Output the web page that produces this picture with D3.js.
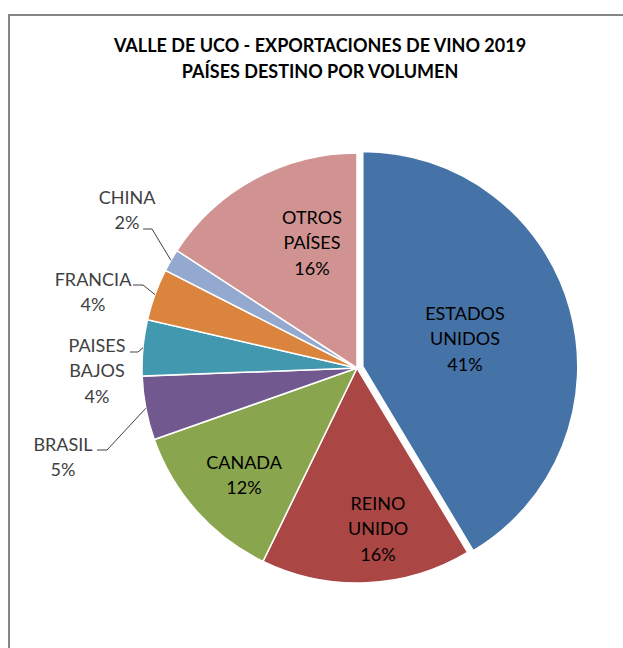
<!DOCTYPE html>
<html>
<head>
<meta charset="utf-8">
<script src="https://cdn.jsdelivr.net/npm/d3@7"></script>
<style>
  body { margin: 0; background: #fff; }
  svg { display: block; font-family: Lato, "Liberation Sans", sans-serif; }
</style>
</head>
<body>
<div id="chart"></div>
<script>
width = 623
height = 648

// data
const paises = ["ESTADOS UNIDOS", "REINO UNIDO", "CANADA", "BRASIL", "PAISES BAJOS", "FRANCIA", "CHINA", "OTROS PAÍSES"]
const volumen = [41.4, 15.8, 12.4, 4.8, 4.2, 3.9, 1.7, 15.8]
const colores = ["#4572A7", "#AA4643", "#89A54E", "#71588F", "#4198AF", "#DB843D", "#93A9CF", "#D19392"]
const lineasEtiqueta = [["ESTADOS", "UNIDOS"], ["REINO", "UNIDO"], ["CANADA"], ["BRASIL"], ["PAISES", "BAJOS"], ["FRANCIA"], ["CHINA"], ["OTROS", "PAÍSES"]]
const titulo = ["VALLE DE UCO - EXPORTACIONES DE VINO 2019", "PAÍSES DESTINO POR VOLUMEN"]

// label layout (relative to pie centre), outside labels get a leader line
const etiquetas = [
  { dx: 108, dy: -29, inside: true },
  { dx: 21, dy: 161, inside: true },
  { dx: -113, dy: 107, inside: true },
  { dx: -294, dy: 89, inside: false, lx0: -260, lx1: -250, ly: 82 },
  { dx: -260, dy: 3, inside: false, lx0: -227, lx1: -219, ly: -16 },
  { dx: -264, dy: -76, inside: false, lx0: -224, lx1: -214, ly: -83 },
  { dx: -230, dy: -158, inside: false, lx0: -214, lx1: -205, ly: -139 },
  { dx: -45, dy: -125, inside: true }
]

const cx = 357, cy = 368, R = 215, EXPLODE = 6
const LINE_H = 25.5

let svg = d3.select("#chart")
  .append("svg")
  .attr("width", width)
  .attr("height", height)

// chart border (continues past the window)
svg.append("rect")
  .attr("x", 9)
  .attr("y", 15)
  .attr("width", 640)
  .attr("height", 660)
  .attr("fill", "none")
  .attr("stroke", "#868686")
  .attr("stroke-width", 2)

svg.selectAll("text.title")
  .data(titulo)
  .enter().append("text")
  .attr("class", "title")
  .attr("x", 320)
  .attr("y", (d, i) => 52 + i * 26)
  .attr("text-anchor", "middle")
  .style("font-weight", "bold")
  .style("font-size", "18px")
  .attr("fill", "#000")
  .text(d => d)

const data = paises.map((p, i) => ({ name: p, value: volumen[i], color: colores[i], lines: lineasEtiqueta[i], lab: etiquetas[i] }))

const pie = d3.pie().value(d => d.value).sort(null)
const arc = d3.arc().innerRadius(0).outerRadius(R)
const arcs = pie(data)

const g = svg.append("g").attr("transform", `translate(${cx},${cy})`)

function midAngle(d) { return (d.startAngle + d.endAngle) / 2 }

g.selectAll("path")
  .data(arcs)
  .enter().append("path")
  .attr("d", arc)
  .attr("fill", d => d.data.color)
  .attr("stroke", "#fff")
  .attr("stroke-width", 1.5)
  .attr("transform", (d, i) => {
    if (i != 0) return null
    let a = midAngle(d)
    return `translate(${Math.sin(a) * EXPLODE},${-Math.cos(a) * EXPLODE})`
  })

// leader lines for the small slices
g.selectAll("polyline")
  .data(arcs.filter(d => !d.data.lab.inside))
  .enter().append("polyline")
  .attr("fill", "none")
  .attr("stroke", "#404040")
  .attr("stroke-width", 1)
  .attr("points", d => {
    let a = midAngle(d)
    let ex = Math.sin(a) * R, ey = -Math.cos(a) * R
    let L = d.data.lab
    return [[L.lx0, L.ly], [L.lx1, L.ly], [ex, ey]].map(p => p.join(",")).join(" ")
  })

// data labels
arcs.forEach(d => {
  let L = d.data.lab
  let rows = d.data.lines.concat([Math.round(d.data.value) + "%"])
  let y0 = L.dy - (rows.length - 1) * LINE_H / 2
  g.append("text")
    .attr("text-anchor", "middle")
    .style("font-size", "18px")
    .attr("fill", L.inside ? "#000" : "#404040")
    .selectAll("tspan")
    .data(rows)
    .enter().append("tspan")
    .attr("x", L.dx)
    .attr("y", (r, j) => y0 + j * LINE_H)
    .attr("dy", "0.35em")
    .text(r => r)
})
</script>
</body>
</html>
